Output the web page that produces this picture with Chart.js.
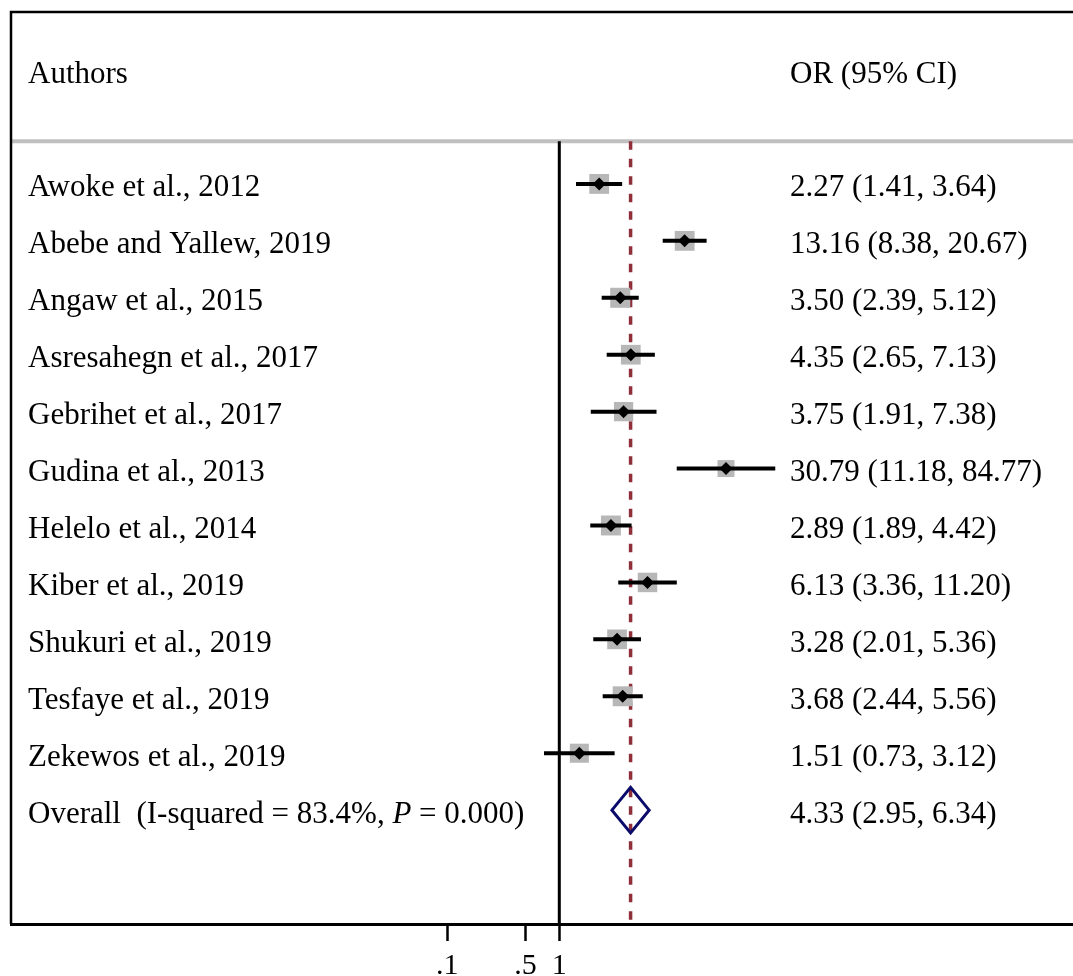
<!DOCTYPE html>
<html>
<head>
<meta charset="utf-8">
<script src="https://cdn.jsdelivr.net/npm/chart.js@4"></script>
<style>
  html, body { margin: 0; padding: 0; background: #fff; overflow: hidden; }
  #wrap { width: 1073px; height: 976px; }
</style>
</head>
<body>
<div id="wrap"><canvas id="forest"></canvas></div>
<script>
// studies, top to bottom
const authors = [
  'Awoke et al., 2012', 'Abebe and Yallew, 2019', 'Angaw et al., 2015',
  'Asresahegn et al., 2017', 'Gebrihet et al., 2017', 'Gudina et al., 2013',
  'Helelo et al., 2014', 'Kiber et al., 2019', 'Shukuri et al., 2019',
  'Tesfaye et al., 2019', 'Zekewos et al., 2019'
];
const orValues = [2.27, 13.16, 3.50, 4.35, 3.75, 30.79, 2.89, 6.13, 3.28, 3.68, 1.51];
const ciLow    = [1.41, 8.38, 2.39, 2.65, 1.91, 11.18, 1.89, 3.36, 2.01, 2.44, 0.73];
const ciHigh   = [3.64, 20.67, 5.12, 7.13, 7.38, 84.77, 4.42, 11.20, 5.36, 5.56, 3.12];
// study weights (%)
const weights  = [9.3, 9.3, 9.5, 9.2, 8.8, 6.8, 9.4, 9.0, 9.2, 9.4, 8.6];

const overallOR = 4.33;
const overallLow = 2.95;
const overallHigh = 6.34;
const overallText = ['Overall  (I-squared = 83.4%, ', 'P', ' = 0.000)'];

const headerLeft = 'Authors';
const headerRight = 'OR (95% CI)';

const xTicks = [0.1, 0.5, 1];
const xTickLabels = ['.1', '.5', '1'];

// axis limits chosen so the plot box spans the whole width
const xMin = Math.pow(10, -4.8955);
const xMax = Math.pow(10, 4.5866);
const yTop = -3.02, yBottom = 13, yHeader = -2, ySep = -0.75;
const rowOverall = authors.length;

const SERIF = '"Liberation Serif", "Times New Roman", serif';
const fmt = v => v.toFixed(2);

const datasets = [];

// grey line under the header
datasets.push({
  data: [{x: xMin, y: ySep}, {x: xMax, y: ySep}],
  showLine: true, borderColor: '#c0c0c0', borderWidth: 4, pointRadius: 0, order: 10
});
// no-effect line at OR = 1
datasets.push({
  data: [{x: 1, y: ySep}, {x: 1, y: yBottom}],
  showLine: true, borderColor: '#000', borderWidth: 3, pointRadius: 0, order: 9
});
// dashed line at the pooled estimate
datasets.push({
  data: [{x: overallOR, y: ySep}, {x: overallOR, y: yBottom}],
  showLine: true, borderColor: '#8e2f3a', borderWidth: 3.5, borderDash: [8.5, 9],
  pointRadius: 0, order: 8
});
// weight boxes
datasets.push({
  data: orValues.map((v, i) => ({x: v, y: i})),
  pointStyle: 'rect', backgroundColor: '#b7b7b7', borderWidth: 0,
  pointRadius: weights.map(w => 6.5 * Math.sqrt(w) / 1.414), order: 7
});
// CI lines
orValues.forEach((v, i) => {
  datasets.push({
    data: [{x: ciLow[i], y: i}, {x: ciHigh[i], y: i}],
    showLine: true, borderColor: '#000', borderWidth: 4, pointRadius: 0, order: 6
  });
});
// point estimates
datasets.push({
  data: orValues.map((v, i) => ({x: v, y: i})),
  pointStyle: 'rectRot', backgroundColor: '#000', borderWidth: 0,
  pointRadius: 6.5, order: 1
});
// pooled diamond
datasets.push({
  data: [
    {x: overallLow, y: rowOverall}, {x: overallOR, y: rowOverall - 0.4},
    {x: overallHigh, y: rowOverall}, {x: overallOR, y: rowOverall + 0.4},
    {x: overallLow, y: rowOverall}, {x: overallOR, y: rowOverall - 0.4}
  ],
  showLine: true, borderColor: '#0b0b6b', borderWidth: 3, borderJoinStyle: 'miter',
  pointRadius: 0, order: 2
});

const textPlugin = {
  id: 'forestText',
  afterDraw(chart) {
    const ctx = chart.ctx;
    const ys = chart.scales.y;
    const area = chart.chartArea;

    // box: top and left edges
    ctx.save();
    ctx.strokeStyle = '#000';
    ctx.lineWidth = 2.5;
    ctx.beginPath();
    ctx.moveTo(area.left, area.bottom);
    ctx.lineTo(area.left, area.top);
    ctx.lineTo(chart.width + 5, area.top);
    ctx.stroke();
    ctx.restore();

    function put(parts, x, y) {
      ctx.save();
      ctx.fillStyle = '#000';
      ctx.textBaseline = 'alphabetic';
      let cx = x;
      parts.forEach(p => {
        ctx.font = (p.italic ? 'italic ' : '') + '31px ' + SERIF;
        ctx.fillText(p.t, cx, y);
        cx += ctx.measureText(p.t).width;
      });
      ctx.restore();
    }

    const leftX = 28, rightX = 790, base = 12.5;
    put([{t: headerLeft}], leftX, ys.getPixelForValue(yHeader) + base);
    put([{t: headerRight}], rightX, ys.getPixelForValue(yHeader) + base);
    authors.forEach((a, i) => {
      const y = ys.getPixelForValue(i) + base;
      put([{t: a}], leftX, y);
      put([{t: fmt(orValues[i]) + ' (' + fmt(ciLow[i]) + ', ' + fmt(ciHigh[i]) + ')'}], rightX, y);
    });
    const yo = ys.getPixelForValue(rowOverall) + base;
    put([{t: overallText[0]}, {t: overallText[1], italic: true}, {t: overallText[2]}], leftX, yo);
    put([{t: fmt(overallOR) + ' (' + fmt(overallLow) + ', ' + fmt(overallHigh) + ')'}], rightX, yo);
  }
};

new Chart(document.getElementById('forest'), {
  type: 'scatter',
  data: { datasets: datasets },
  options: {
    responsive: true,
    maintainAspectRatio: false,
    animation: false,
    events: [],
    layout: { autoPadding: false, padding: { left: 11, top: 12, right: 0, bottom: 0 } },
    plugins: { legend: { display: false }, tooltip: { enabled: false }, title: { display: false } },
    scales: {
      x: {
        type: 'logarithmic',
        bounds: 'data',
        min: xMin,
        max: xMax,
        afterBuildTicks: s => { s.ticks = xTicks.map(v => ({value: v})); },
        afterFit: s => { s.height = 52; s.paddingLeft = 0; s.paddingRight = 0; },
        border: { display: true, color: '#000', width: 3 },
        grid: { display: true, drawOnChartArea: false, drawTicks: true,
                tickLength: 17, tickWidth: 2.5, tickColor: '#000' },
        ticks: {
          autoSkip: false, maxRotation: 0, padding: 7, color: '#000',
          font: { family: SERIF, size: 30 },
          callback: (v, i) => xTickLabels[i]
        }
      },
      y: {
        type: 'linear', min: yTop, max: yBottom, reverse: true, display: false
      }
    }
  },
  plugins: [textPlugin]
});
</script>
</body>
</html>
